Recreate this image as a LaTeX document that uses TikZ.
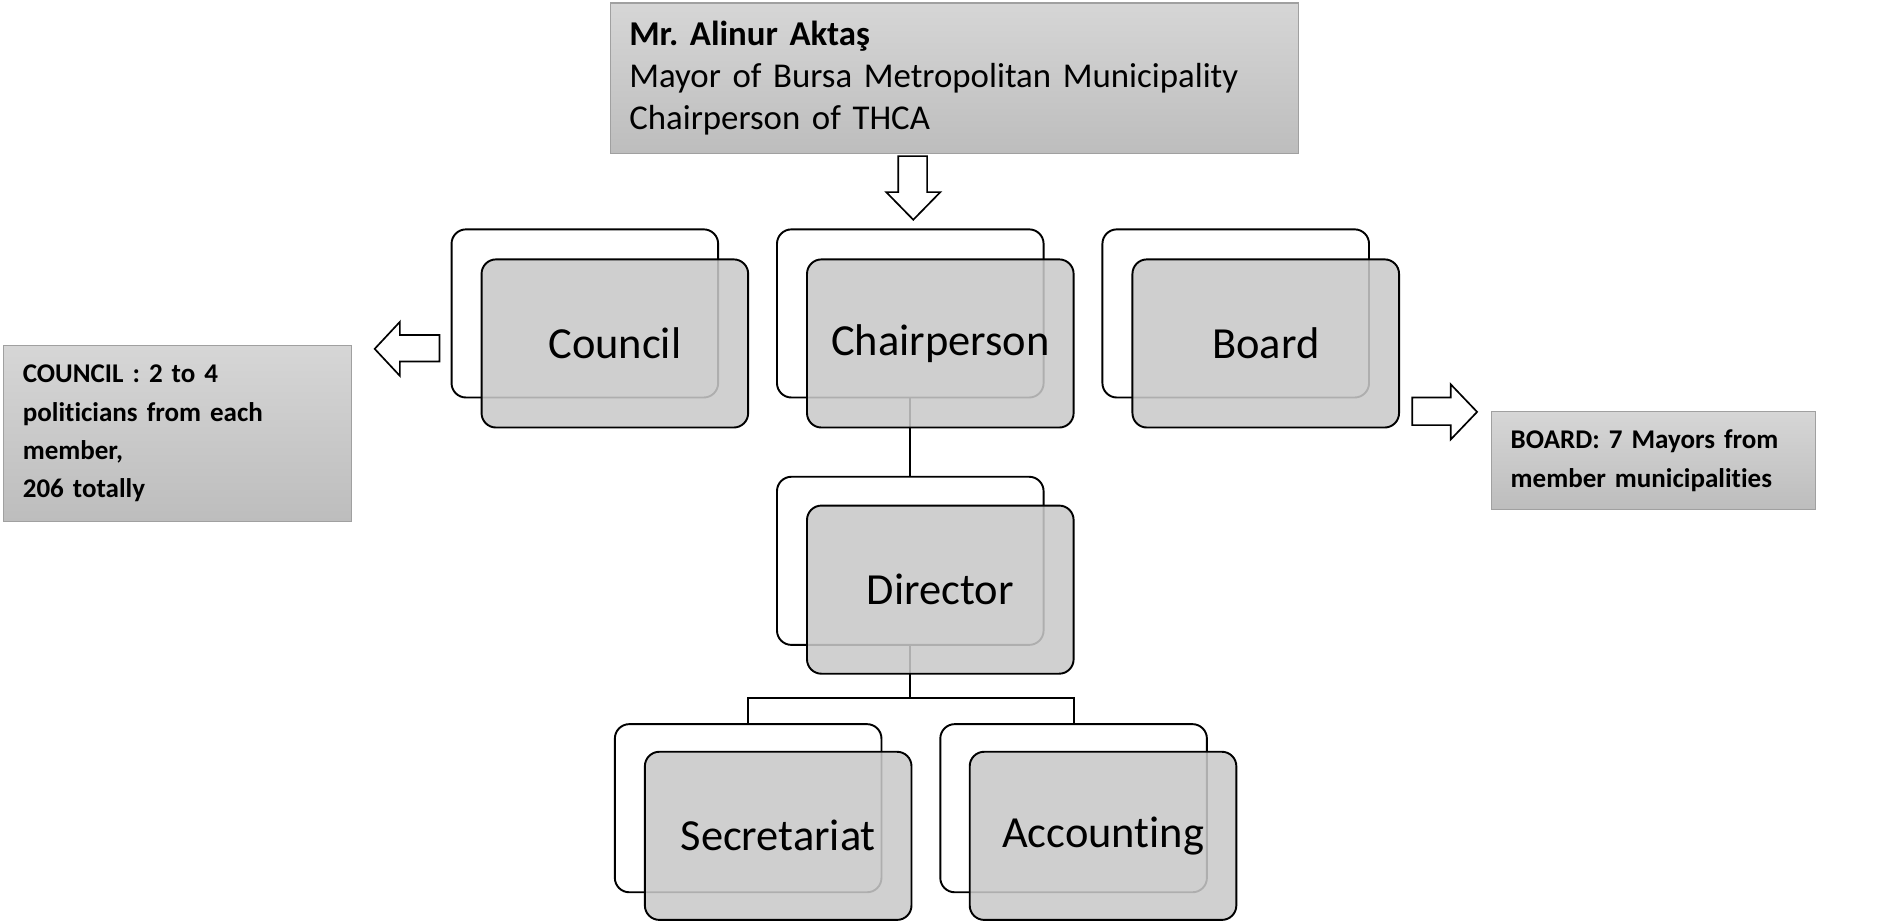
\documentclass[tikz,border=0pt]{standalone}
\usepackage{fontspec}
\setmainfont{Carlito}[Ligatures=NoCommon]
\definecolor{frontgray}{RGB}{201,201,201}
\definecolor{toplight}{RGB}{214,214,214}
\definecolor{topdark}{RGB}{189,189,189}
\definecolor{infoborder}{RGB}{160,160,160}
\frenchspacing
\begin{document}
\begin{tikzpicture}[x=1pt,y=-1pt,
  backbox/.style={draw=black, line width=1.6pt, rounded corners=12pt, fill=white,
    minimum width=222pt, minimum height=140pt, inner sep=0pt},
  frontbox/.style={draw=black, line width=1.6pt, rounded corners=12pt, fill=frontgray,
    fill opacity=0.87, text opacity=1, minimum width=222pt, minimum height=140pt,
    inner sep=0pt, font=\fontsize{37}{44}\selectfont},
  infobox/.style={draw=infoborder, line width=0.9pt, top color=toplight, bottom color=topdark,
    inner xsep=16pt, inner ysep=0pt, align=left},
  conn/.style={draw=black, line width=1.6pt},
  blockarrow/.style={draw=black, line width=1.4pt, fill=white, line join=miter}
]
\useasboundingbox (0,0) rectangle (1568,769);

\coordinate (split) at (758,581);

% back boxes
\node[backbox] (councilB) at (487,261) {};
\node[backbox] (chairB) at (758,261) {};
\node[backbox] (boardB) at (1029,261) {};
\node[backbox] (dirB) at (758,467) {};
\node[backbox] (secB) at (623,673) {};
\node[backbox] (accB) at (894,673) {};

% connectors
\draw[conn] (chairB.south) -- (dirB.north);
\draw[conn] (dirB.south) -- (split);
\draw[conn] (secB.north) |- (split) -| (accB.north);

% front boxes
\node[frontbox] (councilF) at (512,286) {Council};
\node[frontbox] (chairF) at (783,286) {Chairperson};
\node[frontbox] (boardF) at (1054,286) {Board};
\node[frontbox] (dirF) at (783,491) {Director};
\node[frontbox] (secF) at (648,696) {Secretariat};
\node[frontbox] (accF) at (918.5,696) {Accounting};

% top box
\node[infobox, minimum width=573pt, minimum height=125pt, text width=541pt,
  font=\fontsize{29}{35}\selectfont] (mayor) at (794.5,65)
  {\textbf{Mr. Alinur Aktaş}\\Mayor of Bursa Metropolitan Municipality\\Chairperson of THCA};

% council info
\node[infobox, minimum width=290pt, minimum height=146pt, text width=258pt,
  font=\bfseries\fontsize{22.5}{32}\selectfont] (councilInfo) at (148,361)
  {COUNCIL : 2 to 4\\politicians from each\\member,\\206 totally};

% board info
\node[infobox, minimum width=270pt, minimum height=81pt, text width=238pt,
  font=\bfseries\fontsize{22.5}{32}\selectfont] (boardInfo) at (1377,383.5)
  {BOARD: 7 Mayors from\\member municipalities};

% block arrows
\draw[blockarrow] (748,130) -- (772,130) -- (772,160) -- (783,160) -- (760.5,183)
  -- (738,160) -- (748,160) -- cycle;
\draw[blockarrow] (366,279) -- (333,279) -- (333,268) -- (312,290.5) -- (333,313)
  -- (333,301) -- (366,301) -- cycle;
\draw[blockarrow] (1176,331) -- (1208,331) -- (1208,320) -- (1230,343) -- (1208,366)
  -- (1208,354) -- (1176,354) -- cycle;
\end{tikzpicture}
\end{document}
